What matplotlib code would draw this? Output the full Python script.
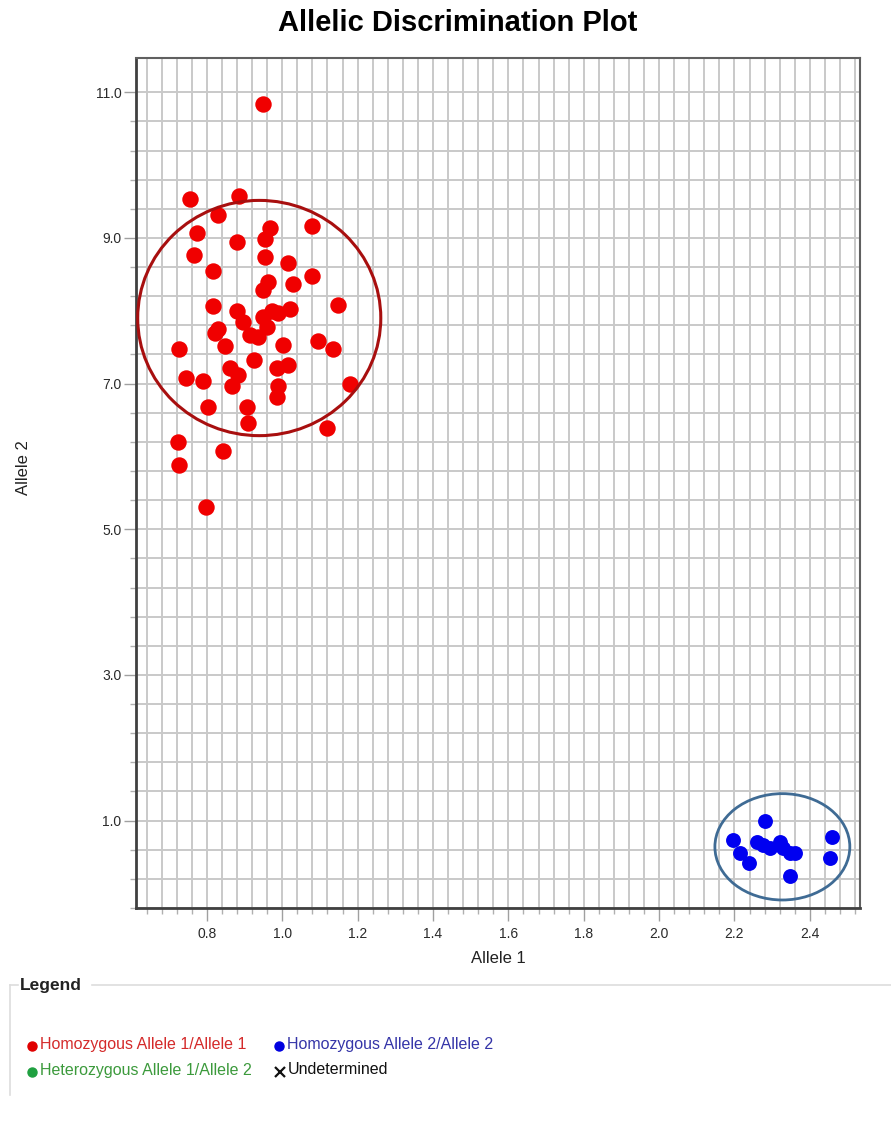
import numpy as np
import matplotlib.pyplot as plt
from matplotlib.patches import Ellipse
from matplotlib.lines import Line2D
from matplotlib.ticker import FixedLocator, FormatStrFormatter

plt.rcParams['font.family'] = ['Liberation Sans', 'DejaVu Sans']

# Homozygous Allele 1/Allele 1 calls
hom1_x = [0.949, 0.755, 0.885, 0.829, 0.773, 0.880, 0.766, 0.816, 0.967, 0.954,
          0.954, 1.015, 1.079, 1.079, 1.028, 0.962, 0.949, 1.147, 0.816, 0.880,
          0.895, 0.972, 0.988, 1.020, 0.829, 0.821, 0.848, 0.914, 0.935, 0.959,
          0.949, 0.726, 1.002, 1.094, 1.134, 0.925, 0.861, 0.882, 0.866, 0.986,
          1.015, 0.988, 0.986, 0.744, 0.789, 1.179, 0.803, 0.906, 0.909, 1.118,
          0.723, 0.842, 0.726, 0.797]
hom1_y = [10.84, 9.54, 9.57, 9.31, 9.07, 8.94, 8.76, 8.55, 9.14, 8.98,
          8.74, 8.66, 9.17, 8.48, 8.37, 8.40, 8.29, 8.08, 8.07, 8.00,
          7.85, 7.99, 7.97, 8.02, 7.75, 7.70, 7.52, 7.67, 7.64, 7.77,
          7.91, 7.47, 7.53, 7.58, 7.47, 7.33, 7.22, 7.12, 6.96, 7.22,
          7.26, 6.96, 6.82, 7.07, 7.04, 7.00, 6.68, 6.68, 6.46, 6.39,
          6.20, 6.08, 5.88, 5.31]

# Homozygous Allele 2/Allele 2 calls
hom2_x = [2.280, 2.195, 2.214, 2.238, 2.259, 2.275, 2.293, 2.320, 2.328, 2.346,
          2.360, 2.346, 2.460, 2.453]
hom2_y = [0.99, 0.74, 0.56, 0.42, 0.70, 0.66, 0.63, 0.70, 0.62, 0.56,
          0.56, 0.24, 0.77, 0.49]

legend_labels = ['Homozygous Allele 1/Allele 1', 'Homozygous Allele 2/Allele 2',
                 'Heterozygous Allele 1/Allele 2', 'Undetermined']

W, H = 891, 1122
fig = plt.figure(figsize=(W / 100, H / 100), dpi=100)
ax = fig.add_axes([136 / W, 1 - 908 / H, (860 - 136) / W, (908 - 58) / H])

ax.set_xlim(0.612, 2.533)
ax.set_ylim(-0.2, 11.47)

# light grid every 0.04 / 0.4, labels every 0.2 / 2.0
ax.xaxis.set_major_locator(FixedLocator(np.arange(0.8, 2.41, 0.2)))
ax.xaxis.set_minor_locator(FixedLocator(np.arange(0.64, 2.53, 0.04)))
ax.yaxis.set_major_locator(FixedLocator(np.arange(1.0, 11.1, 2.0)))
ax.yaxis.set_minor_locator(FixedLocator(np.arange(-0.2, 11.1, 0.4)))
ax.xaxis.set_major_formatter(FormatStrFormatter('%.1f'))
ax.yaxis.set_major_formatter(FormatStrFormatter('%.1f'))
ax.grid(which='both', color='#c9c9c9', lw=1.4)
ax.set_axisbelow(True)

ax.tick_params(which='major', length=9, width=1, color='#a0a0a0',
               labelsize=10, labelcolor='#2a2a2a')
ax.tick_params(axis='x', which='major', pad=5)
ax.tick_params(axis='y', which='major', pad=1.5)
ax.tick_params(which='minor', length=4, width=1, color='#b0b0b0')
for side in ['left', 'bottom']:
    ax.spines[side].set_color('#404040')
    ax.spines[side].set_linewidth(2)
for side in ['top', 'right']:
    ax.spines[side].set_color('#606060')
    ax.spines[side].set_linewidth(1.5)

ax.scatter(hom1_x, hom1_y, s=140, color='#f00000', zorder=3, linewidths=0)
ax.scatter(hom2_x, hom2_y, s=115, color='#0000f0', zorder=3, linewidths=0)

# cluster outlines
ax.add_patch(Ellipse((0.939, 7.90), 0.645, 3.23, fill=False,
                     edgecolor='#a80f0f', lw=2.2, zorder=4))
ax.add_patch(Ellipse((2.327, 0.64), 0.358, 1.46, fill=False,
                     edgecolor='#3f6b94', lw=2.0, zorder=4))

ax.set_xlabel('Allele 1', fontsize=12, color='#222222')
ax.set_ylabel('Allele 2', fontsize=12, color='#222222')
ax.xaxis.set_label_coords(0.5, (908 - 951) / 850)
ax.yaxis.set_label_coords((31 - 136) / 724, (908 - 468) / 850)

fig.text(458 / W, 1 - 23 / H, 'Allelic Discrimination Plot', ha='center',
         va='center', fontsize=21, weight='bold')

# legend panel drawn in pixel coordinates
lg = fig.add_axes([0, 0, 1, 1])
lg.set_xlim(0, W)
lg.set_ylim(H, 0)
lg.axis('off')
lg.add_line(Line2D([10, 10], [985, 1095], color='#dddddd', lw=1.2))
lg.add_line(Line2D([10, 18], [985, 985], color='#dddddd', lw=1.2))
lg.add_line(Line2D([92, W], [985, 985], color='#dddddd', lw=1.2))
lg.text(20, 985, 'Legend', fontsize=12.5, weight='bold', va='center', color='#222222')

lg.plot(32, 1046, 'o', color='#e00000', ms=6.5)
lg.text(40, 1044, legend_labels[0], fontsize=11.5, va='center', color='#d42a2a')
lg.plot(279, 1046, 'o', color='#0000e0', ms=6.5)
lg.text(287, 1044, legend_labels[1], fontsize=11.5, va='center', color='#3535a8')
lg.plot(32, 1072, 'o', color='#1fa040', ms=6.5)
lg.text(40, 1070, legend_labels[2], fontsize=11.5, va='center', color='#3c9a3c')
lg.plot(280, 1072, 'x', color='#111111', ms=7, mew=1.6)
lg.text(288, 1070, legend_labels[3], fontsize=11.5, va='center', color='#111111')

fig.savefig('out.png', dpi=100)
